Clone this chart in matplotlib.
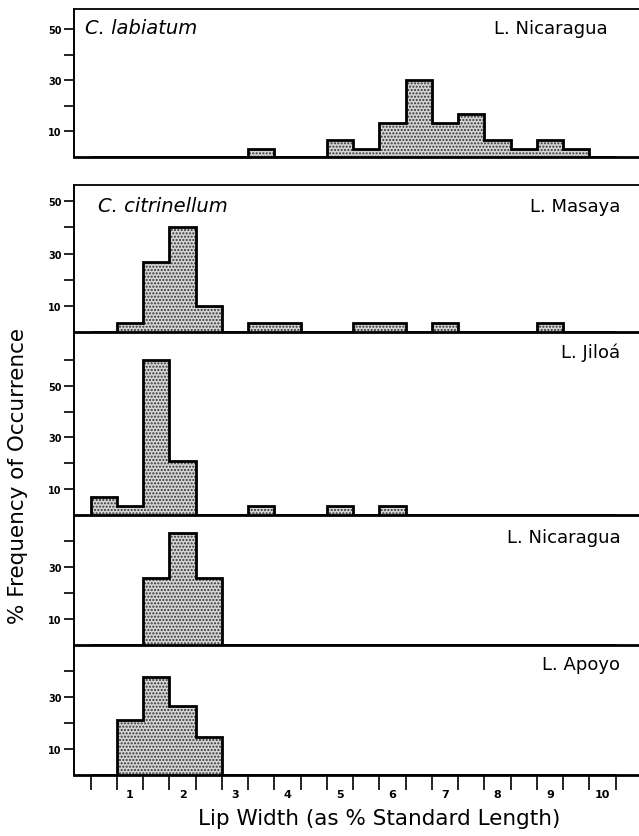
import matplotlib
matplotlib.use("Agg")
import matplotlib.pyplot as plt
import numpy as np

plt.rcParams['font.family'] = ['DejaVu Sans']
plt.rcParams['hatch.linewidth'] = 1.0
plt.rcParams['hatch.color'] = '#333333'

# Bin edges (lip width, % standard length) and bar heights (% frequency)
bin_edges = [0.25 + 0.5 * k for k in range(21)]
labiatum_nicaragua = [0, 0, 0, 0, 0, 0, 3.3, 0, 0, 6.7, 3.3, 13.3, 30, 13.3, 16.7, 6.7, 3.3, 6.7, 3.3, 0]
citrinellum_masaya = [0, 3.3, 26.7, 40, 10, 0, 3.3, 3.3, 0, 0, 3.3, 3.3, 0, 3.3, 0, 0, 0, 3.3, 0, 0]
citrinellum_jiloa = [6.7, 3.3, 60, 21, 0, 0, 3.3, 0, 0, 3.3, 0, 3.3, 0, 0, 0, 0, 0, 0, 0, 0]
citrinellum_nicaragua = [0, 0, 25.6, 42.9, 25.6, 0, 0, 0, 0, 0, 0, 0, 0, 0, 0, 0, 0, 0, 0, 0]
citrinellum_apoyo = [0, 21, 37.7, 26.6, 14.4, 0, 0, 0, 0, 0, 0, 0, 0, 0, 0, 0, 0, 0, 0, 0]

x_tick_values = [1, 2, 3, 4, 5, 6, 7, 8, 9, 10]
x_tick_labels = ['1', '2', '3', '4', '5', '6', '7', '8', '9', '10']

species_labels = ['C. labiatum', 'C. citrinellum']
lake_labels = ['L. Nicaragua', 'L. Masaya', 'L. Jiloá', 'L. Nicaragua', 'L. Apoyo']
x_label = 'Lip Width (as % Standard Length)'
y_label = '% Frequency of Occurrence'

W, H = 639, 837
fig = plt.figure(figsize=(W / 100, H / 100), dpi=100)

X0 = 74
XL = (-0.067, 10.695)


def add_ax(top, bottom):
    return fig.add_axes([X0 / W, 1 - bottom / H, (W - X0) / W, (bottom - top) / H])


panels = [
    # (values, top_px, bottom_px, ymax, major, minor, species, top_spine)
    (labiatum_nicaragua, 10, 158, 58, [10, 30, 50], [20, 40], species_labels[0], True),
    (citrinellum_masaya, 185.5, 332.7, 56.5, [10, 30, 50], [20, 40], species_labels[1], True),
    (citrinellum_jiloa, 332.7, 515.7, 71, [10, 30, 50], [20, 40, 60], None, False),
    (citrinellum_nicaragua, 515.7, 645.5, 50, [10, 30], [20, 40], None, False),
    (citrinellum_apoyo, 645.5, 776, 50, [10, 30], [20, 40], None, False),
]

axes = []
for i, (vals, top, bot, ymax, major, minor, sp, topsp) in enumerate(panels):
    ax = add_ax(top, bot)
    axes.append(ax)
    ax.set_xlim(*XL)
    ax.set_ylim(0, ymax)
    ax.patch.set_alpha(0)
    ax.stairs(vals, bin_edges, fill=True, facecolor='#d4d4d4', edgecolor='#333333',
              hatch='.....', linewidth=0, baseline=0, zorder=2)
    ax.stairs(vals, bin_edges, fill=False, color='black', linewidth=2.0, baseline=0, zorder=3)
    ax.spines['right'].set_visible(False)
    ax.spines['top'].set_visible(topsp)
    ax.spines['top'].set_linewidth(1.3)
    ax.spines['left'].set_linewidth(1.4)
    ax.spines['bottom'].set_linewidth(2.0)
    ax.spines['bottom'].set_zorder(4)
    ax.set_yticks(major)
    ax.set_yticks(minor, minor=True)
    ax.set_yticklabels([str(v) for v in major], fontsize=7, fontweight='bold')
    ax.tick_params(axis='y', which='both', direction='out', length=7, width=1.2, pad=2)
    if i < len(panels) - 1:
        ax.set_xticks([])
        ax.set_xticks([], minor=True)
    else:
        ax.set_xticks(x_tick_values)
        ax.set_xticklabels(x_tick_labels, fontsize=8, fontweight='bold')
        ax.set_xticks(bin_edges, minor=True)
        ax.tick_params(axis='x', which='major', length=0, pad=10)
        ax.tick_params(axis='x', which='minor', direction='out', length=11, width=1.2)
    # lake label
    ax.text(0.967 if i != 0 else 0.945, 1 - {0: 19, 1: 21, 2: 20, 3: 22.5, 4: 20}[i] / (bot - top),
            lake_labels[i], transform=ax.transAxes, ha='right', va='center', fontsize=13)
    if sp:
        ax.text(0.02 if i == 0 else 0.043, 1 - {0: 19, 1: 21}[i] / (bot - top), sp,
                transform=ax.transAxes, ha='left', va='center', fontsize=14, style='italic')

fig.text(18 / W, 1 - 476 / H, y_label, rotation=90, ha='center', va='center', fontsize=15.5)
fig.text(379 / W, 1 - 819 / H, x_label, ha='center', va='center', fontsize=15.5)

fig.savefig('out.png', dpi=100)
